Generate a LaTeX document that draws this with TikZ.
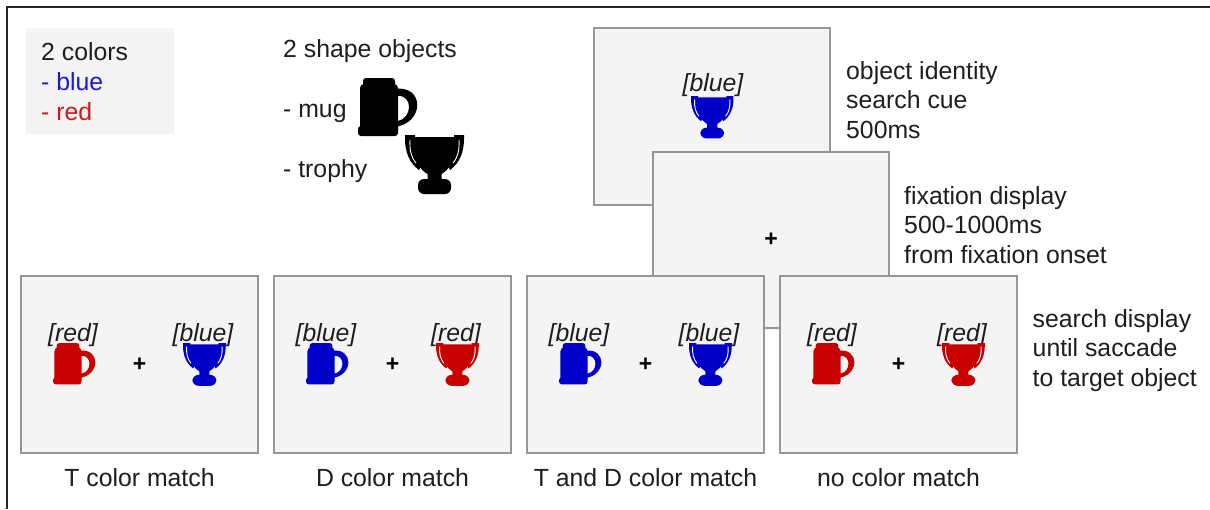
\documentclass[tikz,border=0pt]{standalone}
\usepackage{fontspec}
\setmainfont{Liberation Sans}
\definecolor{objblue}{RGB}{0,0,200}
\definecolor{objred}{RGB}{200,0,0}
\definecolor{txtblue}{RGB}{25,25,215}
\definecolor{txtred}{RGB}{205,25,25}
\definecolor{panelfill}{RGB}{244,244,244}
\definecolor{panelline}{RGB}{150,150,150}
\definecolor{ink}{RGB}{30,30,30}
\begin{document}
\begin{tikzpicture}[x=1pt,y=-1pt,
  panel/.style={draw=panelline, fill=panelfill, line width=1.3pt, minimum width=237pt, minimum height=177pt, inner sep=0pt},
  txt/.style={font=\fontsize{24.8}{29.5}\selectfont, text=ink, inner sep=0pt, align=left, anchor=base west},
  captxt/.style={font=\fontsize{24.8}{29.5}\selectfont, text=ink, inner sep=0pt, anchor=base},
  lab/.style={font=\fontsize{24.8}{29.5}\selectfont\itshape, text=ink, inner sep=0pt, anchor=base},
  cross/.style={font=\fontsize{23}{24}\selectfont\bfseries, text=black, inner sep=0pt},
  mug/.pic={
    \fill[#1, rounded corners=3pt] (5,0) rectangle (37,10);
    \fill[#1, rounded corners=4pt] (2,6) rectangle (40,56);
    \fill[#1, rounded corners=3pt] (0,48) rectangle (40,58);
    \fill[#1, even odd rule] (36,11) .. controls (67,6) and (67,46) .. (36,49) -- cycle
                             (39,18) .. controls (55,16) and (55,41) .. (39,43) -- cycle;
  },
  trophy/.pic={
    \fill[#1] (9,2) -- (50,2) .. controls (50,26) and (44,35) .. (36.5,39) -- (36.5,46)
              -- (22.5,46) -- (22.5,39) .. controls (15,35) and (9,26) .. (9,2) -- cycle;
    \fill[#1, rounded corners=6pt] (13,44) rectangle (46,59);
    \fill[#1] (0,0) -- (10,0) -- (10,4) .. controls (9,16) and (11,24) .. (17,30)
              -- (14,35) .. controls (4,28) and (0,16) .. (0,4) -- cycle;
    \fill[#1] (59,0) -- (49,0) -- (49,4) .. controls (50,16) and (48,24) .. (42,30)
              -- (45,35) .. controls (55,28) and (59,16) .. (59,4) -- cycle;
    \draw[white, line width=0.9pt] (5,5) .. controls (4.5,15) and (6,22) .. (11,28);
    \draw[white, line width=0.9pt] (54,5) .. controls (54.5,15) and (53,22) .. (48,28);
  }
]
\useasboundingbox (0,0) rectangle (1210,509);
\fill[white] (0,0) rectangle (1210,509);
% outer frame (cropped)
\draw[line width=2pt, black!85] (7,509) -- (7,7) -- (1210,7);

% colours legend
\node[fill=panelfill, minimum width=148pt, minimum height=106pt, inner sep=0pt] (colbox) at (100,81) {};
\node[txt, font=\fontsize{24.8}{30}\selectfont] (coltxt) at (41,120.7) {2 colors\\\textcolor{txtblue}{- blue}\\\textcolor{txtred}{- red}};

% shape objects legend
\node[txt] (shapetxt) at (283,57) {2 shape objects};
\node[txt] (mugtxt) at (283,117.5) {- mug};
\node[txt] (trophytxt) at (283,177) {- trophy};
\pic at (358,78) {mug=black};
\pic at (405,135) {trophy=black};

% cue display
\node[panel, minimum width=236pt] (cue) at (712,116.5) {};
\node[lab] (cuelab) at (713,91) {[blue]};
\pic[scale=0.72] at (691,96) {trophy=objblue};
\node[txt] (cuetxt) at (846,138) {object identity\\search cue\\500ms};

% fixation display
\node[panel, minimum width=236pt, minimum height=176pt] (fix) at (771,240) {};
\node[cross] (fixcross) at (fix.center) {+};
\node[txt] (fixtxt) at (904,263) {fixation display\\500-1000ms\\from fixation onset};

% search displays
\foreach \i/\mc/\ml/\tc/\tl/\capt in {0/objred/red/objblue/blue/T color match,
                                     1/objblue/blue/objred/red/D color match,
                                     2/objblue/blue/objblue/blue/T and D color match,
                                     3/objred/red/objred/red/no color match}{
  \pgfmathsetmacro{\L}{21+253*\i}
  \node[panel] (p\i) at (\L+118.5,364.5) {};
  \node[cross] (p\i cross) at (p\i.center) {+};
  \node[lab] (p\i ml) at (\L+52,341) {[\ml]};
  \node[lab] (p\i tl) at (\L+182,341) {[\tl]};
  \pic[scale=0.715] at (\L+32,343) {mug=\mc};
  \pic[scale=0.725] at (\L+162,343) {trophy=\tc};
  \node[captxt] (p\i cap) at (\L+118.5,486) {\capt};
}
\node[txt] (srchtxt) at (1032.5,386) {search display\\until saccade\\to target object};
\end{tikzpicture}
\end{document}
